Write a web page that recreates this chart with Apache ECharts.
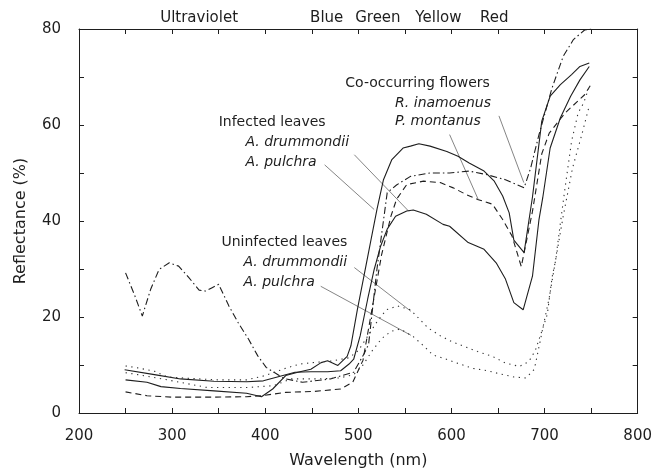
<!DOCTYPE html>
<html>
<head>
<meta charset="utf-8">
<script src="https://cdn.jsdelivr.net/npm/echarts@6/dist/echarts.min.js"></script>
<style>
  html, body { margin: 0; background: #fff; }
  #chart { width: 655px; height: 474px; }
</style>
</head>
<body>
<div id="chart"></div>
<script>
// infected leaves (solid lines)
const infPulchraWl = [250, 273, 288, 309, 345, 380, 396, 408, 422, 435, 449, 460, 467, 478, 488, 492, 499, 506, 513, 520, 527, 536, 548, 556, 565, 577, 595, 607, 619, 635, 646, 655, 662, 667, 678, 687, 697, 706, 717, 729, 738, 748]
const infPulchraR = [6.9, 6.4, 5.5, 5.1, 4.6, 4.1, 3.4, 5.0, 7.8, 8.5, 9.1, 10.5, 10.9, 9.9, 11.8, 14, 21.6, 28.5, 35.5, 42.4, 48.6, 52.8, 55.2, 55.6, 56.1, 55.6, 54.5, 53.5, 52.1, 50.4, 48.3, 45.2, 41.7, 36.0, 33.4, 45, 60.8, 66, 68.4, 70.5, 72.2, 72.9]
const infDrumWl = [249, 281, 309, 345, 380, 398, 415, 432, 449, 467, 481, 490, 495, 502, 510, 517, 524, 531, 540, 552, 559, 573, 591, 598, 618, 635, 648, 658, 667, 677, 687, 694, 698, 706, 717, 728, 738, 748]
const infDrumR = [9.0, 8.0, 7.1, 6.6, 6.5, 6.7, 7.6, 8.5, 8.6, 8.6, 8.8, 10.2, 11.2, 16.1, 23.7, 29.9, 34.8, 38.3, 41.0, 42.1, 42.3, 41.4, 39.3, 38.9, 35.5, 34.1, 31.3, 27.9, 23.0, 21.5, 28.5, 40.3, 44.8, 55.2, 61.5, 66, 69.4, 72.2]

// co-occurring flowers
const inamoenusWl = [250, 260, 268, 277, 286, 297, 307, 318, 329, 336, 343, 350, 361, 371, 382, 392, 401, 420, 440, 470, 495, 506, 511, 520, 531, 541, 556, 577, 598, 619, 637, 658, 678, 685, 694, 708, 720, 731, 743, 750]
const inamoenusR = [29.2, 24.4, 20.2, 25.8, 29.9, 31.3, 30.6, 28.2, 25.6, 25.4, 26.1, 26.8, 22.3, 18.8, 15.4, 11.9, 9.5, 7.2, 6.4, 7.1, 8.5, 12.3, 14.3, 30, 45.9, 47.5, 49.3, 50, 50, 50.4, 49.7, 48.6, 46.9, 51, 58, 67.7, 74.3, 77.8, 79.8, 80]
const montanusWl = [250, 273, 300, 345, 380, 396, 422, 453, 481, 494, 505, 515, 525, 535, 541, 552, 570, 588, 602, 616, 628, 644, 655, 665, 675, 687, 697, 705, 722, 743, 750]
const montanusR = [4.4, 3.6, 3.3, 3.3, 3.4, 3.6, 4.3, 4.5, 5.0, 6.4, 11, 22, 33, 41, 44.5, 47.6, 48.3, 48.0, 46.9, 45.5, 44.5, 43.5, 40.3, 36.9, 30.5, 42, 54, 58.3, 62.5, 66.3, 68.5]

// uninfected leaves (dotted)
const uninfDrumWl = [250, 263, 281, 295, 320, 350, 380, 400, 420, 437, 451, 470, 490, 500, 510, 520, 530, 542, 556, 566, 575, 588, 600, 616, 628, 644, 658, 673, 683, 690, 697, 703, 708, 712, 717, 722, 729, 736, 742, 748]
const uninfDrumR = [9.8, 9.4, 8.7, 7.5, 7.2, 6.9, 6.9, 7.8, 9.2, 10.2, 10.5, 10.8, 11.5, 13, 16, 19, 21.5, 22.3, 21.5, 19.5, 17.7, 16.1, 14.9, 13.7, 12.8, 11.8, 10.4, 9.7, 10.7, 13, 17, 20.6, 28.2, 32, 39.6, 46.9, 56.6, 62.5, 64.6, 68]
const uninfPulchraWl = [250, 263, 295, 338, 380, 409, 428, 456, 480, 495, 505, 515, 525, 535, 545, 559, 570, 580, 596, 609, 623, 639, 653, 667, 680, 689, 692, 699, 705, 712, 720, 730, 740, 748]
const uninfPulchraR = [8.4, 8.0, 6.9, 5.3, 5.3, 5.7, 7.1, 7.1, 7.3, 8, 10, 13, 15.5, 17, 17.5, 15.9, 14, 12.1, 11.1, 10.2, 9.3, 8.8, 8.1, 7.5, 7.3, 9.1, 11.9, 18.5, 24, 32, 41, 51, 58, 64]

const xTicks = [200, 300, 400, 500, 600, 700, 800]
const yTicks = [0, 20, 40, 60, 80]

const FONT = 'DejaVu Sans'
const INK = '#1e1e1e'

const pairs = (wl, r) => wl.map((w, i) => [w, r[i]])

const curve = (name, wl, r, type, color) => ({
  name,
  type: 'line',
  data: pairs(wl, r),
  showSymbol: false,
  symbol: 'none',
  silent: true,
  lineStyle: { color: color || INK, width: 1.1, type }
})

const chart = echarts.init(document.getElementById('chart'), null, { renderer: 'canvas' })

const boxAxis = (extra) => Object.assign({
  type: 'value',
  axisLine: { show: true, onZero: false, lineStyle: { color: INK, width: 1 } },
  axisTick: { show: true, inside: true, length: 5, lineStyle: { color: INK } },
  minorTick: { show: true, splitNumber: 2, length: 5, lineStyle: { color: INK } },
  splitLine: { show: false }
}, extra)

chart.setOption({
  animation: false,
  backgroundColor: '#fff',
  grid: { left: 79, right: 13, top: 29, bottom: 60 },
  xAxis: [
    boxAxis({
      min: xTicks[0], max: xTicks[xTicks.length - 1], interval: 100, position: 'bottom',
      axisLabel: { fontFamily: FONT, fontSize: 15, color: INK, margin: 16 },
      name: 'Wavelength (nm)', nameLocation: 'middle', nameGap: 40,
      nameTextStyle: { fontFamily: FONT, fontSize: 16, color: INK }
    }),
    boxAxis({
      min: xTicks[0], max: xTicks[xTicks.length - 1], interval: 100, position: 'top',
      axisLabel: { show: false }
    })
  ],
  yAxis: [
    boxAxis({
      min: yTicks[0], max: yTicks[yTicks.length - 1], interval: 20, position: 'left',
      axisLabel: { fontFamily: FONT, fontSize: 15, color: INK, margin: 18 },
      name: 'Reflectance (%)', nameLocation: 'middle', nameGap: 50, nameRotate: 90,
      nameTextStyle: { fontFamily: FONT, fontSize: 16, color: INK }
    }),
    boxAxis({
      min: yTicks[0], max: yTicks[yTicks.length - 1], interval: 20, position: 'right',
      axisLabel: { show: false }
    })
  ],
  series: [
    curve('Infected A. pulchra', infPulchraWl, infPulchraR, 'solid'),
    curve('Infected A. drummondii', infDrumWl, infDrumR, 'solid'),
    curve('R. inamoenus', inamoenusWl, inamoenusR, [7, 3, 1.5, 3]),
    curve('P. montanus', montanusWl, montanusR, [6, 4]),
    curve('Uninfected A. drummondii', uninfDrumWl, uninfDrumR, [1.3, 4.5], '#333'),
    curve('Uninfected A. pulchra', uninfPulchraWl, uninfPulchraR, [1.3, 4.5], '#333')
  ]
})

// annotations, anchored in data space (wavelength, reflectance)
const bandLabels = [
  ['Ultraviolet', 329], ['Blue', 466], ['Green', 521], ['Yellow', 586], ['Red', 646]
]
const notes = [
  ['Co-occurring flowers', 486, 68.6, false],
  ['R. inamoenus', 539.5, 64.6, true],
  ['P. montanus', 539.5, 60.7, true],
  ['Infected leaves', 350, 60.5, false],
  ['A. drummondii', 378.7, 56.4, true],
  ['A. pulchra', 378.7, 52.2, true],
  ['Uninfected leaves', 353, 35.5, false],
  ['A. drummondii', 376.6, 31.4, true],
  ['A. pulchra', 376.6, 27.2, true]
]
const pointers = [
  [651, 61.9, 677.7, 48],
  [598, 58, 628.7, 44.5],
  [495.7, 53.8, 554.3, 42],
  [463.8, 51.7, 517, 42.4],
  [495.7, 30.3, 556.4, 21.2],
  [459.6, 26.4, 556.4, 16.2]
]

const px = (w, r) => chart.convertToPixel({ gridIndex: 0 }, [w, r])
const graphics = []
bandLabels.forEach(([t, w]) => {
  const p = px(w, 80)
  graphics.push({
    type: 'text', x: p[0], y: p[1] - 11, silent: true,
    style: { text: t, fontFamily: FONT, fontSize: 15, fill: INK, align: 'center', verticalAlign: 'middle' }
  })
})
notes.forEach(([t, w, r, it]) => {
  const p = px(w, r)
  graphics.push({
    type: 'text', x: p[0], y: p[1], silent: true,
    style: { text: t, fontFamily: FONT, fontSize: 14, fontStyle: it ? 'italic' : 'normal', fill: INK, align: 'left', verticalAlign: 'middle' }
  })
})
pointers.forEach(([w1, r1, w2, r2]) => {
  const a = px(w1, r1)
  const b = px(w2, r2)
  graphics.push({
    type: 'line', silent: true,
    shape: { x1: a[0], y1: a[1], x2: b[0], y2: b[1] },
    style: { stroke: '#666', lineWidth: 0.8 }
  })
})
chart.setOption({ graphic: graphics })
</script>
</body>
</html>
